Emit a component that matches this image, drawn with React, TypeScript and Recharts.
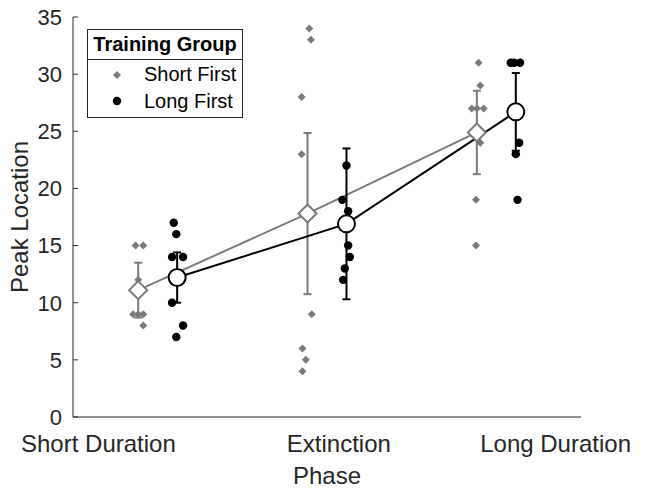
import React from "react";
import { ComposedChart, Scatter, Line, XAxis, YAxis, ErrorBar } from "recharts";

const phases = ["Short Duration", "Extinction", "Long Duration"];
const phasePos = [1, 2, 3];
const phaseLabelPos = [0.65, 2.07, 3.35];
const yTicks = [0, 5, 10, 15, 20, 25, 30, 35];

// group offsets around each phase
const shortOffset = -0.115;
const longOffset = 0.115;

// individual peak locations (Short First group)
const shortFirstSD = [15, 15, 12, 9, 9, 9, 8];
const shortFirstSDJit = [-0.015, 0.03, 0, -0.03, 0, 0.03, 0.03];
const shortFirstEX = [34, 33, 28, 23, 9, 6, 5, 4];
const shortFirstEXJit = [0.01, 0.02, -0.035, -0.035, 0.025, -0.03, -0.01, -0.03];
const shortFirstLD = [31, 29, 27, 27, 27, 24, 19, 15];
const shortFirstLDJit = [0.01, 0.02, -0.03, 0, 0.04, 0.02, -0.005, -0.005];

// individual peak locations (Long First group)
const longFirstSD = [17, 16, 14, 14, 10, 8, 7];
const longFirstSDJit = [-0.02, -0.005, -0.03, 0.035, -0.03, 0.035, -0.005];
const longFirstEX = [22, 19, 18, 15, 14, 13, 12];
const longFirstEXJit = [0, -0.025, 0.01, 0.01, 0.02, -0.01, -0.02];
const longFirstLD = [31, 31, 31, 24, 23, 19];
const longFirstLDJit = [-0.03, -0.01, 0.025, 0.02, 0, 0.01];

// group means and error bars
const shortFirstMean = [11.1, 17.8, 24.9];
const shortFirstErr = [2.4, 7.05, 3.65];
const longFirstMean = [12.2, 16.9, 26.7];
const longFirstErr = [2.2, 6.6, 3.4];

const GRAY = "#7a7a7a";
const AXIS = "#262626";
const FONT = "'Liberation Sans', Arial, Helvetica, sans-serif";

const toPoints = (vals: number[], jit: number[], pos: number) =>
  vals.map((v, i) => ({ x: pos + jit[i], y: v }));

const shortFirstPts = [
  ...toPoints(shortFirstSD, shortFirstSDJit, phasePos[0] + shortOffset),
  ...toPoints(shortFirstEX, shortFirstEXJit, phasePos[1] + shortOffset),
  ...toPoints(shortFirstLD, shortFirstLDJit, phasePos[2] + shortOffset),
];
const longFirstPts = [
  ...toPoints(longFirstSD, longFirstSDJit, phasePos[0] + longOffset),
  ...toPoints(longFirstEX, longFirstEXJit, phasePos[1] + longOffset),
  ...toPoints(longFirstLD, longFirstLDJit, phasePos[2] + longOffset),
];
const shortFirstMeans = phasePos.map((p, i) => ({
  x: p + shortOffset,
  y: shortFirstMean[i],
  err: shortFirstErr[i],
}));
const longFirstMeans = phasePos.map((p, i) => ({
  x: p + longOffset,
  y: longFirstMean[i],
  err: longFirstErr[i],
}));

const SmallDiamond = (props: any) => {
  const { cx, cy } = props;
  const r = 4;
  return (
    <polygon
      points={`${cx},${cy - r} ${cx + r},${cy} ${cx},${cy + r} ${cx - r},${cy}`}
      fill={GRAY}
    />
  );
};

const SmallDot = (props: any) => {
  const { cx, cy } = props;
  return <circle cx={cx} cy={cy} r={4.2} fill="#000" />;
};

const MeanDiamond = (props: any) => {
  const { cx, cy } = props;
  if (cx == null || cy == null) return null;
  const r = 9;
  return (
    <polygon
      points={`${cx},${cy - r} ${cx + r},${cy} ${cx},${cy + r} ${cx - r},${cy}`}
      fill="#fff"
      stroke={GRAY}
      strokeWidth={2}
    />
  );
};

const MeanCircle = (props: any) => {
  const { cx, cy } = props;
  if (cx == null || cy == null) return null;
  return <circle cx={cx} cy={cy} r={8.5} fill="#fff" stroke="#000" strokeWidth={2} />;
};

const YTick = (props: any) => {
  const { x, y, payload } = props;
  return (
    <g>
      <text x={x} y={y} dy="0.36em" textAnchor="end" fontSize={22} fill={AXIS} fontFamily={FONT}>
        {payload.value}
      </text>
      <line x1={x + 11} x2={x + 16} y1={y} y2={y} stroke={AXIS} />
    </g>
  );
};

const XTick = (props: any) => {
  const { x, y, payload } = props;
  const idx = phaseLabelPos.indexOf(payload.value);
  return (
    <text x={x} y={y} dy="0.72em" textAnchor="middle" fontSize={24} fill={AXIS} fontFamily={FONT}>
      {phases[idx]}
    </text>
  );
};

export default function App() {
  return (
    <div style={{ position: "absolute", left: 0, top: 0, width: 648, height: 488, background: "#fff" }}>
      <ComposedChart width={648} height={488} margin={{ top: 17, right: 67, bottom: 0, left: 0 }}>
        <XAxis
          type="number"
          dataKey="x"
          domain={[0.5, 3.5]}
          ticks={phaseLabelPos}
          tick={<XTick />}
          tickLine={false}
          tickSize={0}
          tickMargin={18}
          height={71}
          stroke={AXIS}
          allowDataOverflow
          label={{ value: "Phase", position: "insideBottom", offset: 4, fontSize: 24, fill: AXIS, fontFamily: FONT }}
        />
        <YAxis
          type="number"
          dataKey="y"
          domain={[0, 35]}
          ticks={yTicks}
          tick={<YTick />}
          tickLine={false}
          tickSize={0}
          tickMargin={11}
          width={73}
          stroke={AXIS}
          label={{
            value: "Peak Location",
            angle: -90,
            position: "insideLeft",
            offset: 19,
            fontSize: 24,
            fill: AXIS,
            fontFamily: FONT,
            style: { textAnchor: "middle" },
          }}
        />
        <Scatter data={shortFirstPts} shape={<SmallDiamond />} isAnimationActive={false} />
        <Scatter data={longFirstPts} shape={<SmallDot />} isAnimationActive={false} />
        <Line
          data={shortFirstMeans}
          dataKey="y"
          stroke={GRAY}
          strokeWidth={2}
          dot={<MeanDiamond />}
          activeDot={false}
          isAnimationActive={false}
        >
          <ErrorBar dataKey="err" direction="y" width={4} stroke={GRAY} strokeWidth={2} />
        </Line>
        <Line
          data={longFirstMeans}
          dataKey="y"
          stroke="#000"
          strokeWidth={2}
          dot={<MeanCircle />}
          activeDot={false}
          isAnimationActive={false}
        >
          <ErrorBar dataKey="err" direction="y" width={4} stroke="#000" strokeWidth={2} />
        </Line>
      </ComposedChart>
      <div
        style={{
          position: "absolute",
          left: 87,
          top: 29,
          width: 154,
          border: `1.5px solid ${AXIS}`,
          background: "#fff",
          fontFamily: FONT,
          color: "#000",
        }}
      >
        <div
          style={{
            fontWeight: "bold",
            fontSize: 20,
            textAlign: "center",
            lineHeight: "29px",
            borderBottom: `1.5px solid ${AXIS}`,
          }}
        >
          Training Group
        </div>
        <div style={{ fontSize: 20, lineHeight: "27px", padding: "1px 0 2px 0" }}>
          <div style={{ display: "flex", alignItems: "center" }}>
            <svg width={56} height={27}>
              <polygon points="29,10 33,14 29,18 25,14" fill={GRAY} />
            </svg>
            <span>Short First</span>
          </div>
          <div style={{ display: "flex", alignItems: "center" }}>
            <svg width={56} height={27}>
              <circle cx={29} cy={13} r={4.2} fill="#000" />
            </svg>
            <span>Long First</span>
          </div>
        </div>
      </div>
    </div>
  );
}
